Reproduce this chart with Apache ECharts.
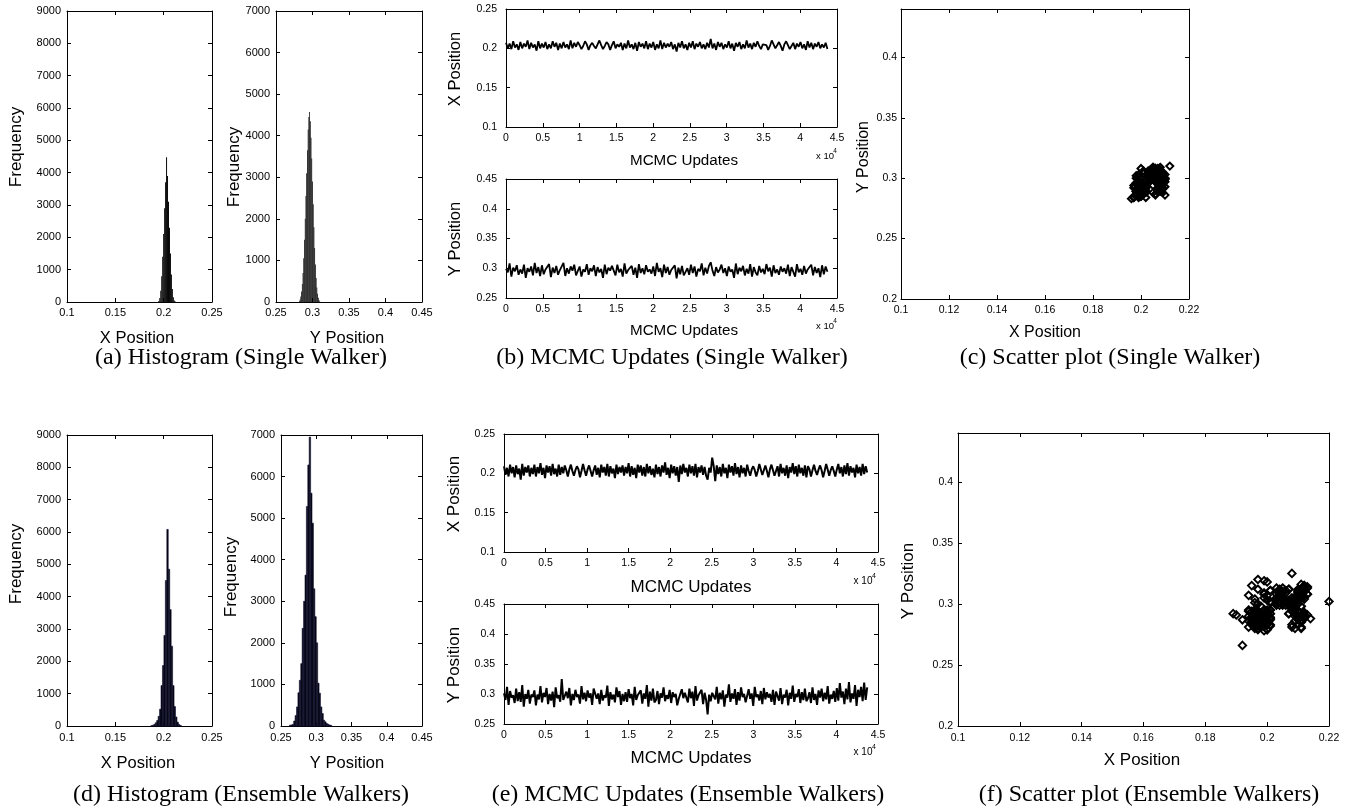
<!DOCTYPE html>
<html>
<head>
<meta charset="utf-8">
<script src="https://cdn.jsdelivr.net/npm/echarts@6/dist/echarts.min.js"></script>
<style>
  html, body { margin: 0; padding: 0; background: #fff; }
  #chart { width: 1357px; height: 810px; }
</style>
</head>
<body>
<div id="chart"></div>
<script>
// ---------------- data ----------------
// Number of MCMC updates recorded for each chain
const UPDATES = 43700;

// Histogram, single walker, X position (bin centres / counts)
const singleHistXBins = [0.195,0.196,0.197,0.198,0.199,0.200,0.201,0.202,0.203,0.204,0.205,0.206,0.207,0.208,0.209,0.210,0.211,0.212];
const singleHistXCounts = [30,120,350,800,1400,2100,2900,3700,4480,3900,3100,2300,1500,850,400,150,50,15];
const singleHistXWidth = 0.001;

// Histogram, single walker, Y position
const singleHistYBins = [0.282,0.283,0.284,0.285,0.286,0.287,0.288,0.289,0.290,0.291,0.292,0.293,0.294,0.295,0.296,0.297,0.298,0.299,0.300,0.301,0.302,0.303,0.304,0.305,0.306,0.307,0.308,0.309,0.310];
const singleHistYCounts = [20,60,130,250,430,700,1050,1500,2000,2550,3100,3650,4150,4450,4570,4350,3950,3450,2900,2350,1800,1300,900,580,350,200,100,45,15];
const singleHistYWidth = 0.001;

// Histogram, ensemble walkers, X position
const ensembleHistXBins = [0.1875,0.1890,0.1905,0.1920,0.1935,0.1950,0.1965,0.1980,0.1995,0.2010,0.2025,0.2040,0.2055,0.2070,0.2085,0.2100,0.2115,0.2130,0.2145,0.2160,0.2175];
const ensembleHistXCounts = [10,25,50,100,170,300,520,1250,1870,2800,4500,6080,4850,3600,2470,1250,600,280,120,50,15];
const ensembleHistXWidth = 0.0015;

// Histogram, ensemble walkers, Y position
const ensembleHistYBins = [0.263,0.265,0.267,0.269,0.271,0.273,0.275,0.277,0.279,0.281,0.283,0.285,0.287,0.289,0.291,0.293,0.295,0.297,0.299,0.301,0.303,0.305,0.307,0.309,0.311,0.313,0.315,0.317,0.319,0.321];
const ensembleHistYCounts = [20,25,40,120,250,460,800,1100,1500,2350,3000,3630,5280,6280,6950,5600,4880,3300,2630,2000,1030,790,460,300,140,100,60,40,25,15];
const ensembleHistYWidth = 0.002;

// Chain samples, single walker
const singleX = [
0.207,0.200,0.206,0.199,0.209,0.201,0.205,0.198,0.208,0.200,0.206,0.202,0.210,0.199,0.207,0.201,0.205,0.197,0.209,0.200,
0.206,0.201,0.208,0.199,0.205,0.200,0.209,0.202,0.207,0.198,0.206,0.200,0.208,0.201,0.205,0.199,0.210,0.200,0.207,0.202,
0.208,0.204,0.199,0.203,0.209,0.205,0.198,0.204,0.207,0.203,0.200,0.205,0.210,0.204,0.199,0.203,0.208,0.205,0.198,0.204,
0.209,0.200,0.205,0.202,0.207,0.198,0.206,0.200,0.210,0.201,0.205,0.199,0.207,0.197,0.208,0.202,0.206,0.200,0.209,0.199,
0.206,0.201,0.208,0.198,0.205,0.200,0.210,0.199,0.207,0.201,0.206,0.202,0.208,0.199,0.205,0.196,0.207,0.201,0.209,0.200,
0.205,0.198,0.207,0.201,0.209,0.199,0.206,0.202,0.208,0.200,0.205,0.199,0.207,0.201,0.212,0.200,0.206,0.198,0.208,0.202,
0.207,0.199,0.205,0.201,0.209,0.200,0.206,0.197,0.207,0.202,0.208,0.199,0.205,0.200,0.210,0.201,0.206,0.199,0.207,0.202,
0.209,0.203,0.199,0.205,0.207,0.204,0.198,0.203,0.210,0.205,0.200,0.204,0.208,0.203,0.197,0.205,0.209,0.204,0.199,0.203,
0.207,0.199,0.206,0.202,0.208,0.200,0.205,0.198,0.209,0.201,0.207,0.199,0.206,0.202,0.208,0.200,0.205,0.201,0.207,0.199];
const singleY = [
0.299,0.293,0.308,0.286,0.301,0.295,0.305,0.289,0.298,0.291,0.306,0.284,0.300,0.294,0.303,0.288,0.309,0.292,0.302,0.287,
0.305,0.290,0.298,0.295,0.307,0.285,0.301,0.292,0.304,0.289,0.297,0.294,0.309,0.287,0.300,0.291,0.303,0.296,0.306,0.288,
0.291,0.303,0.286,0.298,0.294,0.307,0.289,0.300,0.295,0.305,0.287,0.302,0.293,0.299,0.284,0.306,0.290,0.301,0.296,0.304,
0.302,0.288,0.306,0.293,0.299,0.286,0.308,0.291,0.297,0.295,0.304,0.289,0.301,0.284,0.307,0.292,0.300,0.290,0.305,0.294,
0.298,0.291,0.303,0.287,0.309,0.294,0.300,0.285,0.306,0.292,0.302,0.289,0.297,0.295,0.305,0.283,0.301,0.290,0.304,0.288,
0.294,0.300,0.289,0.306,0.292,0.303,0.286,0.299,0.295,0.308,0.288,0.301,0.291,0.304,0.310,0.296,0.287,0.302,0.293,0.298,
0.306,0.292,0.300,0.287,0.303,0.294,0.298,0.284,0.308,0.290,0.301,0.295,0.304,0.288,0.299,0.291,0.307,0.286,0.302,0.293,
0.288,0.304,0.293,0.299,0.290,0.307,0.295,0.301,0.286,0.305,0.292,0.298,0.289,0.303,0.294,0.300,0.291,0.306,0.287,0.302,
0.301,0.286,0.307,0.293,0.299,0.289,0.304,0.291,0.298,0.295,0.306,0.288,0.302,0.292,0.300,0.285,0.305,0.290,0.303,0.294];

// Chain samples, ensemble walkers
const ensembleX = [
0.209,0.198,0.207,0.196,0.211,0.200,0.208,0.195,0.210,0.199,0.206,0.192,0.212,0.197,0.208,0.201,0.210,0.196,0.207,0.199,
0.211,0.196,0.208,0.200,0.213,0.198,0.207,0.194,0.210,0.201,0.209,0.197,0.212,0.199,0.206,0.196,0.211,0.198,0.208,0.200,
0.210,0.204,0.196,0.205,0.211,0.203,0.197,0.204,0.209,0.205,0.195,0.203,0.212,0.204,0.197,0.205,0.210,0.203,0.196,0.204,
0.210,0.198,0.207,0.195,0.211,0.201,0.208,0.197,0.212,0.196,0.209,0.200,0.206,0.194,0.211,0.199,0.208,0.201,0.210,0.197,
0.208,0.200,0.213,0.196,0.209,0.198,0.207,0.194,0.211,0.201,0.210,0.197,0.208,0.196,0.212,0.200,0.209,0.198,0.206,0.195,
0.211,0.199,0.208,0.196,0.210,0.201,0.214,0.198,0.207,0.194,0.211,0.200,0.209,0.197,0.208,0.189,0.210,0.199,0.212,0.201,
0.207,0.196,0.211,0.200,0.209,0.197,0.212,0.195,0.208,0.201,0.210,0.198,0.208,0.197,0.192,0.207,0.201,0.220,0.209,0.190,
0.210,0.199,0.208,0.196,0.212,0.200,0.207,0.194,0.211,0.201,0.209,0.197,0.213,0.199,0.208,0.195,0.210,0.200,0.207,0.196,
0.211,0.203,0.197,0.205,0.209,0.204,0.196,0.203,0.212,0.205,0.198,0.204,0.210,0.203,0.195,0.205,0.211,0.204,0.197,0.203,
0.209,0.196,0.212,0.200,0.207,0.197,0.210,0.194,0.208,0.201,0.213,0.199,0.209,0.196,0.211,0.200,0.207,0.197,0.210,0.195,
0.209,0.205,0.196,0.204,0.211,0.203,0.198,0.205,0.210,0.204,0.195,0.203,0.212,0.205,0.197,0.204,0.209,0.203,0.196,0.205,
0.212,0.200,0.208,0.196,0.210,0.199,0.213,0.197,0.209,0.201,0.207,0.195,0.211,0.200,0.208,0.197,0.212,0.199,0.209,0.201];
const ensembleY = [
0.301,0.290,0.312,0.282,0.305,0.294,0.298,0.285,0.309,0.288,0.303,0.287,0.315,0.279,0.300,0.292,0.307,0.284,0.299,0.295,
0.306,0.281,0.299,0.291,0.313,0.286,0.302,0.295,0.310,0.283,0.300,0.289,0.304,0.278,0.311,0.293,0.298,0.287,0.325,0.290,
0.287,0.304,0.293,0.310,0.281,0.300,0.290,0.307,0.295,0.299,0.284,0.313,0.291,0.302,0.288,0.306,0.294,0.301,0.282,0.309,
0.310,0.292,0.301,0.283,0.307,0.289,0.298,0.294,0.314,0.280,0.303,0.291,0.299,0.286,0.311,0.295,0.305,0.282,0.300,0.288,
0.303,0.287,0.308,0.293,0.300,0.281,0.312,0.290,0.298,0.295,0.306,0.284,0.301,0.292,0.315,0.279,0.304,0.289,0.309,0.286,
0.290,0.305,0.283,0.301,0.294,0.311,0.288,0.298,0.292,0.307,0.285,0.303,0.295,0.300,0.281,0.292,0.289,0.308,0.293,0.302,
0.300,0.286,0.309,0.293,0.304,0.280,0.313,0.289,0.298,0.295,0.307,0.283,0.302,0.290,0.266,0.299,0.288,0.302,0.305,0.291,
0.312,0.284,0.302,0.291,0.306,0.279,0.299,0.294,0.316,0.287,0.301,0.292,0.308,0.282,0.303,0.289,0.311,0.295,0.300,0.286,
0.286,0.308,0.292,0.301,0.280,0.312,0.295,0.299,0.289,0.305,0.283,0.310,0.291,0.303,0.294,0.300,0.287,0.307,0.282,0.304,
0.305,0.289,0.310,0.283,0.299,0.294,0.307,0.281,0.302,0.292,0.314,0.287,0.300,0.295,0.308,0.285,0.303,0.290,0.309,0.288,
0.293,0.303,0.285,0.311,0.290,0.300,0.282,0.306,0.294,0.309,0.288,0.302,0.291,0.313,0.284,0.299,0.292,0.305,0.287,0.310,
0.289,0.318,0.294,0.304,0.283,0.309,0.291,0.320,0.286,0.301,0.292,0.315,0.280,0.307,0.295,0.312,0.288,0.319,0.290,0.311];

// Panel captions
const captions = [
  '(a) Histogram (Single Walker)', '(b) MCMC Updates (Single Walker)', '(c) Scatter plot (Single Walker)',
  '(d) Histogram (Ensemble Walkers)', '(e) MCMC Updates (Ensemble Walkers)', '(f) Scatter plot (Ensemble Walkers)'
];

// ---------------- drawing ----------------
const SANS = '"Liberation Sans", Arial, Helvetica, sans-serif';
const NARROW = '"Liberation Sans Narrow", "Liberation Sans", Arial, sans-serif';
const SERIF = '"Liberation Serif", "Times New Roman", serif';

// grid boxes: [left, top, width, height]; axis ranges [min, max, interval]
const panels = [
  { box: [67, 11, 145, 291],  x: [0.1, 0.25, 0.05], y: [0, 9000, 1000], font: SANS, fs: 11, xm: 5, ym: 6 },
  { box: [276, 11, 146, 291], x: [0.25, 0.45, 0.05], y: [0, 7000, 1000], font: SANS, fs: 11, xm: 5, ym: 6 },
  { box: [506, 9, 331, 118],  x: [0, 45000, 5000], y: [0.1, 0.25, 0.05], font: SANS, fs: 10.5, xm: 6, ym: 9, e4: true },
  { box: [506, 179, 331, 119], x: [0, 45000, 5000], y: [0.25, 0.45, 0.05], font: SANS, fs: 10.5, xm: 6, ym: 9, e4: true },
  { box: [901, 9, 288, 290],  x: [0.1, 0.22, 0.02], y: [0.2, 0.44, 0.05], font: NARROW, fs: 10.5, xm: 6, ym: 4, noMax: true },
  { box: [67, 435, 145, 291], x: [0.1, 0.25, 0.05], y: [0, 9000, 1000], font: SANS, fs: 11, xm: 6, ym: 6 },
  { box: [281, 435, 141, 291], x: [0.25, 0.45, 0.05], y: [0, 7000, 1000], font: SANS, fs: 11, xm: 6, ym: 6 },
  { box: [504, 434, 374, 118], x: [0, 45000, 5000], y: [0.1, 0.25, 0.05], font: SANS, fs: 10.5, xm: 6, ym: 9, e4: true },
  { box: [504, 604, 374, 120], x: [0, 45000, 5000], y: [0.25, 0.45, 0.05], font: SANS, fs: 10.5, xm: 6, ym: 9, e4: true },
  { box: [958, 433, 371, 293], x: [0.1, 0.22, 0.02], y: [0.2, 0.44, 0.05], font: SANS, fs: 10.5, xm: 7, ym: 5, noMax: true }
];

// plain number text, trimmed of float noise
const plain = (v) => String(Math.round(v * 1e6) / 1e6);

const grids = [], xAxes = [], yAxes = [];
panels.forEach((p, i) => {
  grids.push({ left: p.box[0], top: p.box[1], width: p.box[2], height: p.box[3], containLabel: false });
  const line = { show: true, onZero: false, lineStyle: { color: '#000', width: 1 } };
  const tick = { show: true, inside: true, length: 4, lineStyle: { color: '#000', width: 1 } };
  const label = (m, fmt) => ({ show: true, color: '#000', fontFamily: p.font, fontSize: p.fs, margin: m, formatter: fmt });
  const base = (r) => ({ type: 'value', gridIndex: i, min: r[0], max: r[1], interval: r[2],
    splitLine: { show: false }, axisLine: line, axisTick: tick });
  const xFmt = p.e4 ? (v) => plain(v / 10000) : plain;
  xAxes.push(Object.assign(base(p.x), { position: 'bottom', axisLabel: label(p.xm, xFmt) }));
  xAxes.push(Object.assign(base(p.x), { position: 'top', axisLabel: { show: false } }));
  const yl = label(p.ym, plain);
  if (p.noMax) yl.showMaxLabel = false;
  yAxes.push(Object.assign(base(p.y), { position: 'left', axisLabel: yl }));
  yAxes.push(Object.assign(base(p.y), { position: 'right', axisLabel: { show: false } }));
});

function histSeries(pi, bins, counts, width, fill, edge) {
  return {
    type: 'custom', xAxisIndex: pi * 2, yAxisIndex: pi * 2, silent: true, animation: false,
    data: bins.map((c, i) => [c, counts[i]]),
    renderItem(params, api) {
      const c = api.value(0), n = api.value(1);
      const a = api.coord([c - width / 2, n]);
      const b = api.coord([c + width / 2, 0]);
      return { type: 'rect', shape: { x: a[0], y: a[1], width: b[0] - a[0], height: b[1] - a[1] },
        style: { fill: fill, stroke: edge || null, lineWidth: edge ? 0.6 : 0 } };
    }
  };
}
function traceSeries(pi, values, w) {
  const n = values.length;
  return {
    type: 'line', xAxisIndex: pi * 2, yAxisIndex: pi * 2, silent: true, animation: false,
    showSymbol: false, symbol: 'none',
    data: values.map((v, i) => [i * UPDATES / (n - 1), v]),
    lineStyle: { color: '#000', width: w, join: 'bevel' }
  };
}
function scatterSeries(pi, xs, ys, size, bw) {
  return {
    type: 'scatter', xAxisIndex: pi * 2, yAxisIndex: pi * 2, silent: true, animation: false,
    symbol: 'diamond', symbolSize: size,
    data: xs.map((x, i) => [x, ys[i]]),
    itemStyle: { color: 'rgba(0,0,0,0)', borderColor: '#000', borderWidth: bw, opacity: 1 }
  };
}

const series = [
  histSeries(0, singleHistXBins, singleHistXCounts, singleHistXWidth, '#000'),
  histSeries(1, singleHistYBins, singleHistYCounts, singleHistYWidth, '#000'),
  traceSeries(2, singleX, 1.8),
  traceSeries(3, singleY, 1.8),
  scatterSeries(4, singleX, singleY, 7, 2),
  histSeries(5, ensembleHistXBins, ensembleHistXCounts, ensembleHistXWidth, '#000', '#14143c'),
  histSeries(6, ensembleHistYBins, ensembleHistYCounts, ensembleHistYWidth, '#000', '#14143c'),
  traceSeries(7, ensembleX, 2),
  traceSeries(8, ensembleY, 2),
  scatterSeries(9, ensembleX, ensembleY, 7.5, 1.9)
];

// axis titles, exponent notes and captions
function txt(text, x, y, size, font, rot) {
  return { type: 'text', x: x, y: y, rotation: rot ? Math.PI / 2 : 0, silent: true,
    style: { text: text, fill: '#000', font: size + 'px ' + font,
      textAlign: 'center', textVerticalAlign: 'middle', align: 'center', verticalAlign: 'middle' } };
}
const graphics = [
  txt('Frequency', 16, 147, 17, SANS, true),
  txt('X Position', 137, 338, 16.5, SANS),
  txt('Frequency', 234, 167, 17, SANS, true),
  txt('Y Position', 347, 338, 16.5, SANS),
  txt('X Position', 455, 69, 16.5, SANS, true),
  txt('MCMC Updates', 684, 161, 15.2, SANS),
  txt('Y Position', 455, 239, 16.5, SANS, true),
  txt('MCMC Updates', 684, 331, 15.2, SANS),
  txt('Y Position', 864, 157, 16, NARROW, true),
  txt('X Position', 1045, 333, 16, NARROW),
  txt('Frequency', 16, 564, 17, SANS, true),
  txt('X Position', 138, 763, 16.5, SANS),
  txt('Frequency', 231, 577, 17, SANS, true),
  txt('Y Position', 347, 763, 16.5, SANS),
  txt('X Position', 454, 494, 17, SANS, true),
  txt('MCMC Updates', 691, 587, 17, SANS),
  txt('Y Position', 454, 665, 17, SANS, true),
  txt('MCMC Updates', 691, 758, 17, SANS),
  txt('Y Position', 908, 581, 17, SANS, true),
  txt('X Position', 1142, 760, 17, SANS),
  // x 10^4 notes on the update axes
  txt('x 10', 825, 156, 9.5, NARROW), txt('4', 835, 151, 6.5, NARROW),
  txt('x 10', 825, 326, 9.5, NARROW), txt('4', 835, 321, 6.5, NARROW),
  txt('x 10', 863, 581, 10, SANS), txt('4', 874, 576, 7, SANS),
  txt('x 10', 863, 752, 10, SANS), txt('4', 874, 747, 7, SANS),
  // captions
  txt(captions[0], 241, 358, 24, SERIF),
  txt(captions[1], 672, 358, 24, SERIF),
  txt(captions[2], 1110, 358, 24, SERIF),
  txt(captions[3], 241, 795, 24, SERIF),
  txt(captions[4], 688, 795, 24, SERIF),
  txt(captions[5], 1149, 795, 24, SERIF)
];

const chart = echarts.init(document.getElementById('chart'), null, { renderer: 'canvas' });
chart.setOption({
  backgroundColor: '#fff',
  animation: false,
  grid: grids,
  xAxis: xAxes,
  yAxis: yAxes,
  series: series,
  graphic: { elements: graphics }
});
</script>
</body>
</html>
